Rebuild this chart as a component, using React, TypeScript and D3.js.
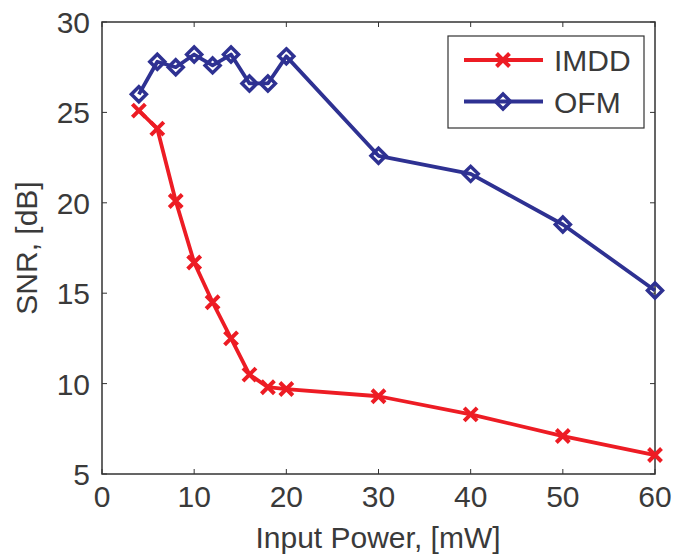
import React from "react";
import * as d3 from "d3";

const xValues = [4, 6, 8, 10, 12, 14, 16, 18, 20, 30, 40, 50, 60];
const imddValues = [25.1, 24.1, 20.1, 16.7, 14.5, 12.5, 10.5, 9.8, 9.7, 9.3, 8.3, 7.1, 6.05];
const ofmValues = [26.0, 27.8, 27.5, 28.2, 27.6, 28.2, 26.6, 26.6, 28.1, 22.6, 21.6, 18.8, 15.15];
const xTicks = [0, 10, 20, 30, 40, 50, 60];
const yTicks = [5, 10, 15, 20, 25, 30];
const seriesNames = ["IMDD", "OFM"];

const W = 675;
const H = 558;
const L = 102, R = 655, T = 22, B = 474;
const RED = "#ed1c24";
const BLUE = "#2e3192";
const TXT = "#3a3a3a";
const AX = "#333333";
const FONT = "'Liberation Sans', Arial, Helvetica, sans-serif";

const xs = d3.scaleLinear().domain([0, 60]).range([L, R]);
const ys = d3.scaleLinear().domain([5, 30]).range([B, T]);

function Cross({ x, y }: { x: number; y: number }) {
  const s = 6.5;
  return (
    <path d={`M${x - s},${y - s}L${x + s},${y + s}M${x - s},${y + s}L${x + s},${y - s}`} stroke={RED} strokeWidth={4} fill="none" />
  );
}
function Diamond({ x, y }: { x: number; y: number }) {
  const s = 7.5;
  return (
    <path d={`M${x},${y - s}L${x + s},${y}L${x},${y + s}L${x - s},${y}Z`} stroke={BLUE} strokeWidth={3.5} fill="none" />
  );
}

export default function App() {
  const line = d3.line<number>().x((_, i) => xs(xValues[i])).y((d) => ys(d));
  const legX1 = 464, legX2 = 543, legMid = 503;
  return (
    <svg width={W} height={H} style={{ position: "absolute", left: 0, top: 0, background: "#fff" }} fontFamily={FONT}>
      <rect x={0} y={0} width={W} height={H} fill="#fff" />
      {xTicks.map((t) => (
        <g key={"xt" + t}>
          <line x1={xs(t)} x2={xs(t)} y1={B} y2={B - 5} stroke={AX} strokeWidth={1} />
          <line x1={xs(t)} x2={xs(t)} y1={T} y2={T + 5} stroke={AX} strokeWidth={1} />
          <text x={xs(t)} y={507} textAnchor="middle" fontSize={30} fill={TXT}>{t}</text>
        </g>
      ))}
      {yTicks.map((t) => (
        <g key={"yt" + t}>
          <line x1={L} x2={L + 5} y1={ys(t)} y2={ys(t)} stroke={AX} strokeWidth={1} />
          <line x1={R} x2={R - 5} y1={ys(t)} y2={ys(t)} stroke={AX} strokeWidth={1} />
          <text x={90} y={ys(t) + 11} textAnchor="end" fontSize={30} fill={TXT}>{t}</text>
        </g>
      ))}
      <rect x={L} y={T} width={R - L} height={B - T} fill="none" stroke={AX} strokeWidth={1.5} />
      <path d={line(imddValues) || ""} stroke={RED} strokeWidth={3.8} fill="none" strokeLinejoin="round" />
      {imddValues.map((v, i) => <Cross key={"c" + i} x={xs(xValues[i])} y={ys(v)} />)}
      <path d={line(ofmValues) || ""} stroke={BLUE} strokeWidth={3.8} fill="none" strokeLinejoin="round" />
      {ofmValues.map((v, i) => <Diamond key={"d" + i} x={xs(xValues[i])} y={ys(v)} />)}
      <rect x={448} y={36} width={196} height={92} fill="#fff" stroke={AX} strokeWidth={1.2} />
      <line x1={legX1} x2={legX2} y1={60} y2={60} stroke={RED} strokeWidth={3.8} />
      <Cross x={legMid} y={60} />
      <text x={554} y={71} fontSize={30} fill={TXT}>{seriesNames[0]}</text>
      <line x1={legX1} x2={legX2} y1={101.5} y2={101.5} stroke={BLUE} strokeWidth={3.8} />
      <Diamond x={legMid} y={101.5} />
      <text x={554} y={112.5} fontSize={30} fill={TXT}>{seriesNames[1]}</text>
      <text x={378} y={548} textAnchor="middle" fontSize={30} fill={TXT}>Input Power, [mW]</text>
      <text transform={`translate(37,${(T + B) / 2}) rotate(-90)`} textAnchor="middle" fontSize={30} fill={TXT}>SNR, [dB]</text>
    </svg>
  );
}
